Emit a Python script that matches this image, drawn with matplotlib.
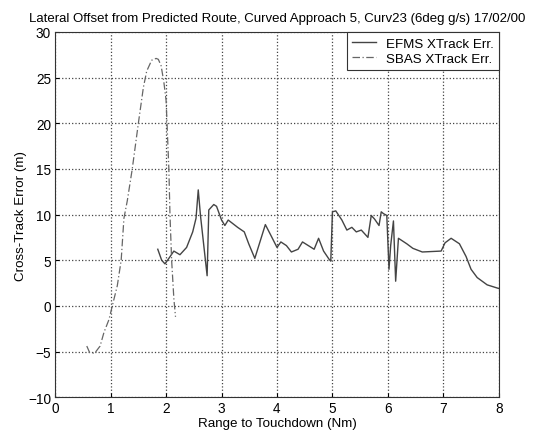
import numpy as np
import matplotlib
matplotlib.use("Agg")
import matplotlib.pyplot as plt

plt.rcParams['font.family'] = ['Liberation Sans', 'DejaVu Sans']

# SBAS cross-track error vs range to touchdown
sbas_x = [0.57, 0.62, 0.71, 0.81, 0.88, 0.97, 1.03, 1.12, 1.19, 1.24, 1.30,
          1.39, 1.50, 1.59, 1.65, 1.74, 1.82, 1.86, 1.91, 1.96, 2.00, 2.05,
          2.07, 2.10, 2.14, 2.17]
sbas_y = [-4.4, -5.1, -5.2, -4.4, -2.9, -1.5, 0.0, 2.2, 5.0, 9.6, 11.5,
          15.0, 20.0, 23.9, 25.7, 26.9, 27.1, 27.0, 26.3, 24.5, 22.5, 15.0,
          10.0, 5.0, 0.8, -1.2]

# EFMS cross-track error vs range to touchdown
efms_x = [1.85, 1.92, 1.98, 2.05, 2.14, 2.25, 2.37, 2.48, 2.54, 2.58, 2.62,
          2.74, 2.77, 2.86, 2.91, 3.00, 3.06, 3.12, 3.29, 3.41, 3.49, 3.60,
          3.79, 3.90, 4.00, 4.07, 4.17, 4.26, 4.38, 4.46, 4.67, 4.75, 4.84,
          4.94, 4.97, 5.00, 5.06, 5.17, 5.26, 5.35, 5.43, 5.52, 5.64, 5.70,
          5.76, 5.84, 5.88, 5.92, 5.98, 6.02, 6.05, 6.10, 6.14, 6.19, 6.34,
          6.45, 6.62, 6.96, 7.03, 7.14, 7.29, 7.41, 7.50, 7.61, 7.79, 8.00]
efms_y = [6.2, 5.0, 4.6, 5.2, 6.0, 5.6, 6.4, 8.1, 9.6, 12.7, 9.9,
          3.3, 10.5, 11.1, 10.9, 9.4, 8.8, 9.4, 8.6, 8.1, 6.8, 5.2,
          8.9, 7.6, 6.4, 7.0, 6.6, 5.9, 6.2, 7.0, 6.2, 7.4, 6.0,
          5.1, 4.9, 10.3, 10.4, 9.4, 8.3, 8.6, 8.1, 8.3, 7.5, 9.9,
          9.5, 8.8, 10.3, 10.1, 9.9, 4.0, 6.6, 9.3, 2.7, 7.4, 6.8,
          6.3, 5.9, 6.0, 6.9, 7.4, 6.8, 5.4, 4.0, 3.1, 2.3, 1.9]

fig = plt.figure(figsize=(5.41, 4.39), dpi=100)
ax = fig.add_axes([0.102, 0.093, 0.82, 0.832])

ax.plot(efms_x, efms_y, color='#444444', lw=1.0, label='EFMS XTrack Err.')
ax.plot(sbas_x, sbas_y, color='#666666', lw=0.9, ls=(0, (6, 2, 1, 2)),
        label='SBAS XTrack Err.')

ax.set_xlim(0, 8)
ax.set_ylim(-10, 30)
ax.set_xticks(range(0, 9))
ax.set_yticks(range(-10, 31, 5))
ax.grid(True, ls=':', color='#444444', lw=0.9)
ax.tick_params(direction='in', labelsize=9.8, length=3, pad=3)
for s in ax.spines.values():
    s.set_color('#333333')

ax.set_xlabel('Range to Touchdown (Nm)', fontsize=9.6, labelpad=1)
ax.set_ylabel('Cross-Track Error (m)', fontsize=9.6, labelpad=1)
ax.set_title('Lateral Offset from Predicted Route, Curved Approach 5, Curv23 (6deg g/s) 17/02/00',
             fontsize=9.5, pad=8)

leg = ax.legend(loc='upper right', fontsize=9.6, fancybox=False, framealpha=1,
                edgecolor='#333333', borderaxespad=0, handlelength=1.8,
                borderpad=0.4, labelspacing=0.2, handletextpad=0.7)
leg.get_frame().set_linewidth(0.8)

fig.savefig('out.png', dpi=100)
